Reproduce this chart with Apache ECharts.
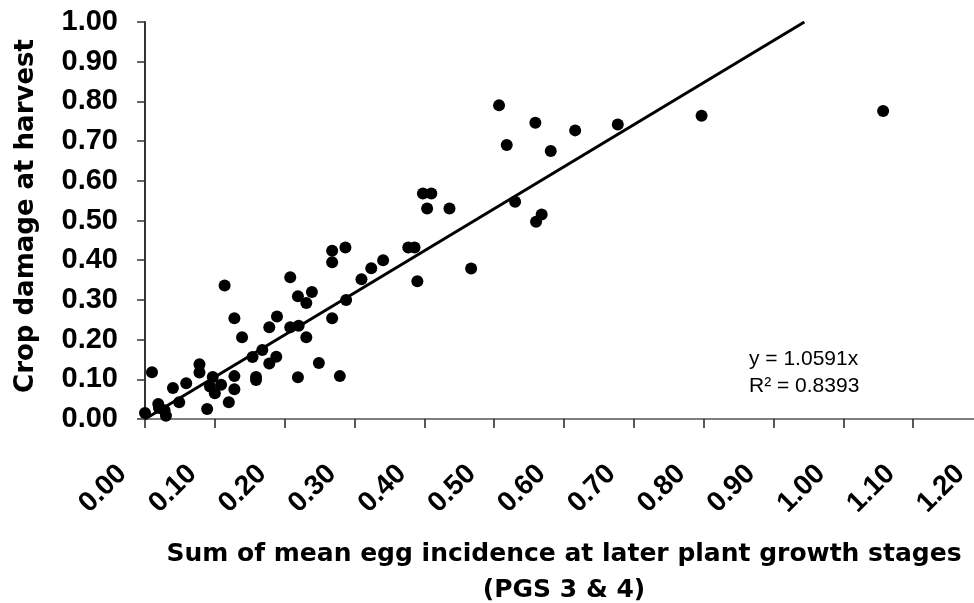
<!DOCTYPE html>
<html>
<head>
<meta charset="utf-8">
<script src="https://cdn.jsdelivr.net/npm/echarts@6/dist/echarts.min.js"></script>
<style>
  html, body { margin: 0; padding: 0; background: #fff; }
  #chart { width: 974px; height: 603px; }
</style>
</head>
<body>
<div id="chart"></div>
<script>
// sum of mean egg incidence (PGS 3 & 4)
const eggIncidence = [
  0.000, 0.010, 0.019, 0.020, 0.028, 0.030, 0.040, 0.049, 0.059, 0.078,
  0.078, 0.089, 0.097, 0.093, 0.100, 0.109, 0.114, 0.120, 0.128, 0.128,
  0.128, 0.139, 0.159, 0.159, 0.154, 0.168, 0.178, 0.188, 0.178, 0.189,
  0.208, 0.208, 0.220, 0.219, 0.231, 0.239, 0.231, 0.219, 0.249, 0.268,
  0.268, 0.287, 0.268, 0.288, 0.279, 0.310, 0.324, 0.341, 0.377, 0.386,
  0.390, 0.398, 0.410, 0.404, 0.436, 0.467, 0.507, 0.518, 0.530, 0.559,
  0.560, 0.568, 0.581, 0.616, 0.677, 0.797, 1.057
]
// crop damage at harvest
const cropDamage = [
  0.015, 0.118, 0.038, 0.028, 0.022, 0.008, 0.078, 0.042, 0.090, 0.138,
  0.117, 0.025, 0.106, 0.082, 0.065, 0.086, 0.336, 0.042, 0.254, 0.108,
  0.075, 0.206, 0.106, 0.098, 0.156, 0.174, 0.140, 0.157, 0.231, 0.258,
  0.357, 0.231, 0.235, 0.309, 0.292, 0.320, 0.206, 0.105, 0.141, 0.395,
  0.424, 0.432, 0.254, 0.300, 0.108, 0.352, 0.380, 0.400, 0.432, 0.432,
  0.347, 0.568, 0.568, 0.530, 0.530, 0.379, 0.790, 0.690, 0.547, 0.746,
  0.497, 0.515, 0.675, 0.727, 0.742, 0.764, 0.776
]
// linear trend through origin
const slope = 1.0591
const rSquared = 0.8393

const points = eggIncidence.map((x, i) => [x, cropDamage[i]])
const trend = [[0, 0], [1 / slope, 1]]

const tickFont = 'Liberation Sans'
const titleFont = 'DejaVu Sans'
const chart = echarts.init(document.getElementById('chart'))
chart.setOption({
  animation: false,
  backgroundColor: '#ffffff',
  grid: {
    left: 145,
    top: 22,
    width: 838,
    height: 397,
    containLabel: false,
    outerBoundsMode: 'none'
  },
  xAxis: {
    type: 'value',
    min: 0,
    max: 1.2,
    interval: 0.1,
    name: 'Sum of mean egg incidence at later plant growth stages\n(PGS 3 & 4)',
    nameLocation: 'middle',
    nameGap: 117,
    nameTextStyle: {
      fontFamily: titleFont,
      fontWeight: 'bold',
      fontSize: 25,
      lineHeight: 36,
      color: '#000'
    },
    axisLine: { show: true, lineStyle: { color: '#555', width: 1.5 } },
    axisTick: { show: true, inside: false, length: 9, lineStyle: { color: '#222', width: 1.5 } },
    axisLabel: {
      rotate: 45,
      margin: 28,
      padding: [0, 32, 0, 0],
      fontFamily: tickFont,
      fontWeight: 'bold',
      fontSize: 28,
      color: '#000',
      formatter: v => v.toFixed(2)
    },
    splitLine: { show: false }
  },
  yAxis: {
    type: 'value',
    min: 0,
    max: 1,
    interval: 0.1,
    name: 'Crop damage at harvest',
    nameLocation: 'middle',
    nameGap: 106,
    nameTextStyle: {
      fontFamily: titleFont,
      fontWeight: 'bold',
      fontSize: 26,
      padding: [0, 0, 0, 9],
      color: '#000'
    },
    axisLine: { show: true, lineStyle: { color: '#333', width: 2 } },
    axisTick: { show: true, length: 8, lineStyle: { color: '#333', width: 1.5 } },
    axisLabel: {
      margin: 27,
      fontFamily: tickFont,
      fontWeight: 'bold',
      fontSize: 29,
      color: '#000',
      formatter: v => v.toFixed(2)
    },
    splitLine: { show: false }
  },
  series: [
    {
      name: 'trend',
      type: 'line',
      data: trend,
      symbol: 'none',
      lineStyle: { color: '#000', width: 3 },
      z: 2
    },
    {
      name: 'fields',
      type: 'scatter',
      data: points,
      symbol: 'circle',
      symbolSize: 12,
      itemStyle: { color: '#000', opacity: 1 },
      z: 3
    }
  ],
  graphic: [
    {
      type: 'text',
      left: 749,
      top: 346,
      style: {
        text: 'y = ' + slope + 'x\nR² = ' + rSquared,
        fontFamily: 'Liberation Sans',
        fontSize: 21,
        lineHeight: 27,
        align: 'right',
        fill: '#000'
      }
    }
  ]
})
</script>
</body>
</html>
